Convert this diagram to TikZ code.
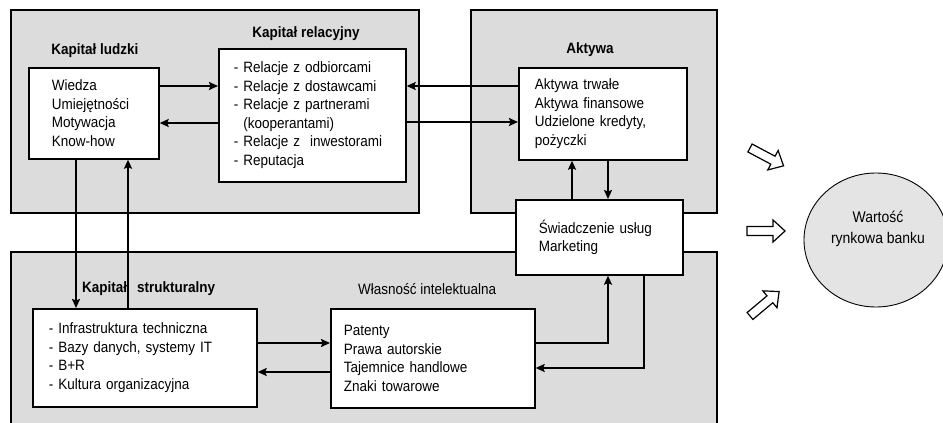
\documentclass[tikz,border=0pt]{standalone}
\usepackage{fontspec}
\setmainfont{Liberation Sans}[FakeStretch=0.9]
\usetikzlibrary{arrows.meta,shapes.geometric}

\definecolor{panelgray}{HTML}{DCDCDC}
\definecolor{valuegray}{HTML}{E4E4E4}

\tikzset{
  region/.style={draw, line width=1.7pt, fill=panelgray},
  box/.style={draw, line width=1.7pt, fill=white, align=left, anchor=north west,
    inner ysep=0pt, font=\fontsize{15}{18.5}\selectfont},
  heading/.style={inner sep=0pt, font=\fontsize{15}{17}\selectfont\bfseries},
  plainheading/.style={inner sep=0pt, font=\fontsize{15}{17}\selectfont},
  conn/.style={line width=1.7pt, -{Stealth[length=9pt,width=8pt,inset=1.5pt]}},
  pics/bigarrow/.style={code={
    \draw[line width=1.2pt, fill=white, line join=miter]
      (0,-4.5) -- (26,-4.5) -- (26,-11) -- (38,0) -- (26,11) -- (26,4.5) -- (0,4.5) -- cycle;
  }}
}

\begin{document}
\begin{tikzpicture}[x=1pt,y=-1pt]
\useasboundingbox (0,0) rectangle (943,423);
\clip (0,0) rectangle (943,423);

% grey panels
\draw[region] (11,10) rectangle (419,213);
\draw[region] (471,10) rectangle (717,213);
\draw[region] (11,252) rectangle (717,440);

% panel headings
\node[heading] (tHuman) at (95,51) {Kapitał ludzki};
\node[heading] (tRel) at (306,34) {Kapitał relacyjny};
\node[heading] (tAssets) at (590,50) {Aktywa};
\node[heading, anchor=west] (tStruct) at (82,289) {Kapitał\hspace{10pt}strukturalny};
\node[plainheading, anchor=west] (tIP) at (358,289) {Własność intelektualna};

% content boxes
\node[box, text width=84pt, inner xsep=23pt, minimum height=91pt] (human) at (28,67)
  {Wiedza\\Umiejętności\\Motywacja\\Know-how};
\node[box, text width=157pt, inner xsep=15pt, minimum height=133pt] (rel) at (218,48)
  {- Relacje z odbiorcami\\- Relacje z dostawcami\\- Relacje z partnerami\\\phantom{- }(kooperantami)\\- Relacje z~ inwestorami\\- Reputacja};
\node[box, text width=136pt, inner xsep=16pt, minimum height=92pt] (assets) at (518,67)
  {Aktywa trwałe\\Aktywa finansowe\\Udzielone kredyty,\\pożyczki};
\node[box, text width=121pt, inner xsep=23pt, minimum height=75pt] (service) at (515,199)
  {Świadczenie usług\\Marketing};
\node[box, text width=192pt, inner xsep=16pt, minimum height=98pt] (struct) at (32,308)
  {- Infrastruktura techniczna\\- Bazy danych, systemy IT\\- B+R\\- Kultura organizacyjna};
\node[box, text width=178pt, inner xsep=13pt, minimum height=99pt] (ip) at (330,308)
  {Patenty\\Prawa autorskie\\Tajemnice handlowe\\Znaki towarowe};

% connectors
\draw[conn] (human.east |- 0,86) -- (rel.west |- 0,86);
\draw[conn] (rel.west |- 0,123) -- (human.east |- 0,123);
\draw[conn] (assets.west |- 0,86) -- (rel.east |- 0,86);
\draw[conn] (rel.east |- 0,122) -- (assets.west |- 0,122);
\draw[conn] (human.south -| 76,0) -- (struct.north -| 76,0);
\draw[conn] (struct.north -| 128,0) -- (human.south -| 128,0);
\draw[conn] (service.north -| 572,0) -- (assets.south -| 572,0);
\draw[conn] (assets.south -| 608,0) -- (service.north -| 608,0);
\draw[conn] (struct.east |- 0,343) -- (ip.west |- 0,343);
\draw[conn] (ip.west |- 0,372) -- (struct.east |- 0,372);
\draw[conn] (ip.east |- 0,343) -| (service.south -| 608,0);
\draw[conn] (service.south -| 644,0) |- (ip.east |- 0,368);

% market value
\node[draw, ellipse, line width=0.9pt, fill=valuegray, minimum width=144pt, minimum height=134pt] (value) at (876,240) {};
\node[align=center, inner sep=0pt, font=\fontsize{15.5}{21}\selectfont] (valueText) at (878,229) {Wartość\\rynkowa banku};

% hollow arrows towards the value
\pic[rotate=-28] at (750,148) {bigarrow};
\pic at (747,231) {bigarrow};
\pic[rotate=40] at (750,316) {bigarrow};
\end{tikzpicture}
\end{document}
